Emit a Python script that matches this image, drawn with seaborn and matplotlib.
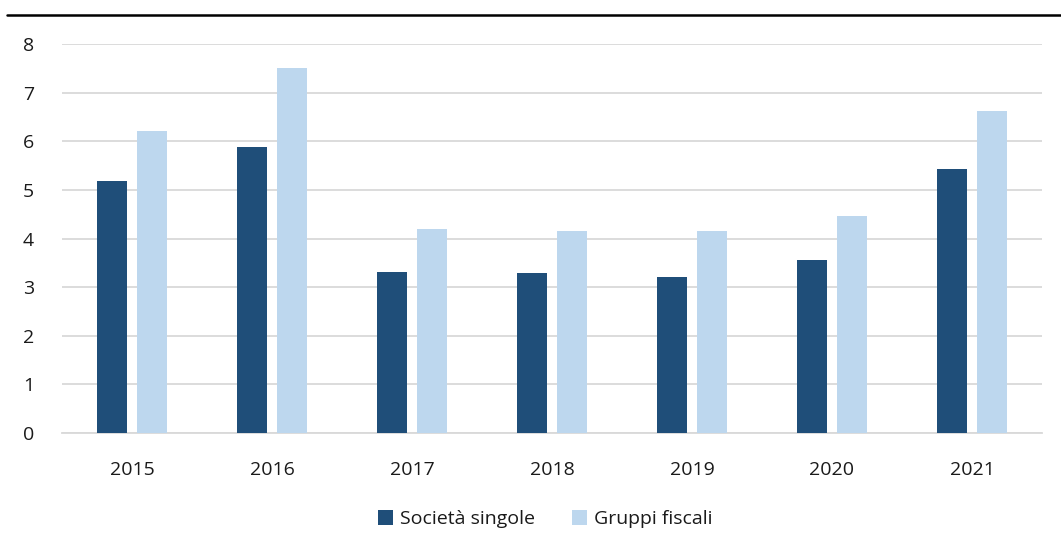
import matplotlib
matplotlib.use("Agg")
import matplotlib.pyplot as plt
from matplotlib.patches import Patch
import pandas as pd
import seaborn as sns

years = ["2015", "2016", "2017", "2018", "2019", "2020", "2021"]
societa_singole = [5.19, 5.88, 3.32, 3.29, 3.21, 3.55, 5.42]
gruppi_fiscali = [6.22, 7.50, 4.20, 4.16, 4.16, 4.46, 6.62]
series_names = ["Società singole", "Gruppi fiscali"]
y_ticks = [0, 1, 2, 3, 4, 5, 6, 7, 8]

dark_blue = "#1F4E79"
light_blue = "#BDD7EE"
text_color = "#1A1A1A"
font_size = 14

df = pd.DataFrame({
    "anno": years * 2,
    "valore": societa_singole + gruppi_fiscali,
    "serie": [series_names[0]] * len(years) + [series_names[1]] * len(years),
})

sns.set_theme(style="white")
plt.rcParams["font.family"] = ["Open Sans", "DejaVu Sans"]

fig = plt.figure(figsize=(10.61, 5.49), dpi=100)
ax = fig.add_axes([62 / 1061, 1 - 433 / 549, 980 / 1061, (433 - 44) / 549])

sns.barplot(
    data=df, x="anno", y="valore", hue="serie",
    palette=[dark_blue, light_blue], saturation=1, width=0.565, gap=0.23,
    edgecolor="none", linewidth=0, ax=ax, legend=False, zorder=3,
)

ax.set_ylim(0, 8)
ax.set_xlim(-0.5, len(years) - 0.5)
ax.set_yticks(y_ticks)
ax.set_yticklabels([str(t) for t in y_ticks], fontsize=font_size, color=text_color)
ax.tick_params(axis="y", length=0, pad=24)
ax.tick_params(axis="x", length=0, pad=20, labelsize=font_size, labelcolor=text_color)
ax.set_xlabel("")
ax.set_ylabel("")
for lbl in ax.get_yticklabels():
    lbl.set_horizontalalignment("center")

ax.grid(axis="y", color="#D9D9D9", linewidth=1.3, zorder=0)
for side in ["top", "right", "left"]:
    ax.spines[side].set_visible(False)
ax.spines["bottom"].set_color("#D9D9D9")
ax.spines["bottom"].set_linewidth(1.3)

handles = [Patch(facecolor=dark_blue, edgecolor="none"),
           Patch(facecolor=light_blue, edgecolor="none")]
fig.legend(handles, series_names, loc="center", bbox_to_anchor=(545 / 1061, 1 - 519 / 549),
           ncol=2, frameon=False, fontsize=font_size, handlelength=0.78, handleheight=0.78,
           handletextpad=0.36, columnspacing=1.9, labelcolor=text_color)

# rule under the heading
fig.add_artist(plt.Line2D([7 / 1061, 1.0], [1 - 15 / 549, 1 - 15 / 549],
                          color="black", linewidth=1.8, transform=fig.transFigure))

fig.savefig("out.png", dpi=100)
